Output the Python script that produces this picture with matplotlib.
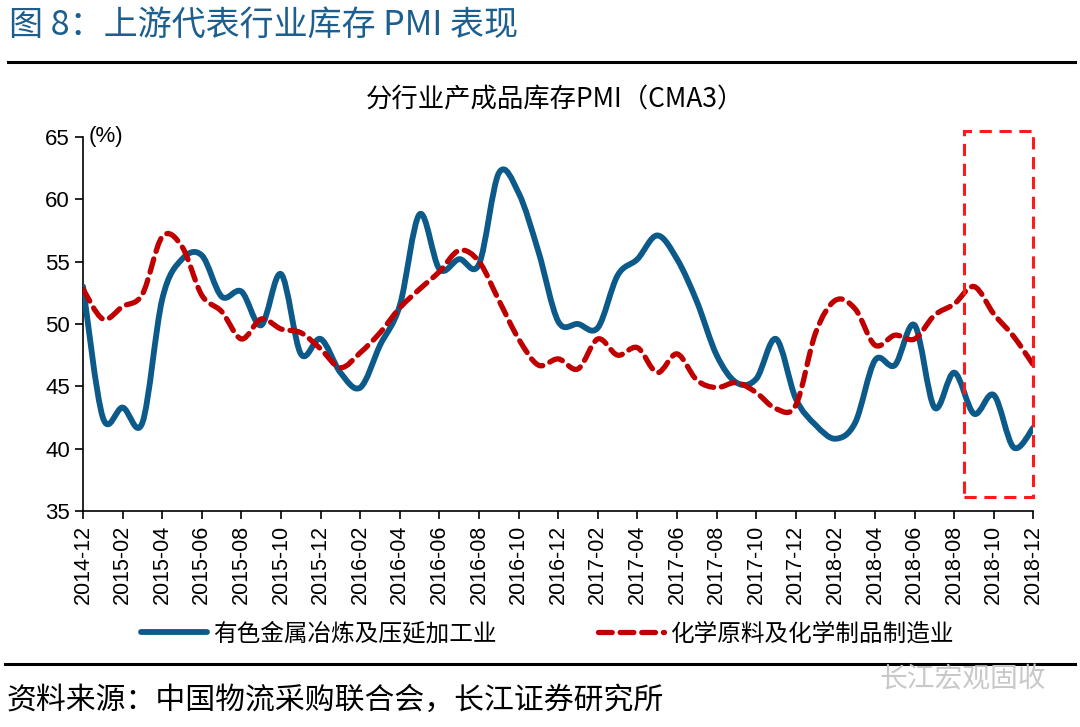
import numpy as np
import matplotlib
matplotlib.use("Agg")
import matplotlib.pyplot as plt
from matplotlib.patches import Rectangle, PathPatch
from matplotlib.path import Path
from matplotlib.lines import Line2D

plt.rcParams['font.family'] = ['Liberation Sans', 'Noto Sans CJK SC', 'DejaVu Sans']
CJK = ['Noto Sans CJK SC', 'DejaVu Sans']

# monthly 2014-12 .. 2018-12
months = [f"{2014 + (11 + i) // 12}-{(11 + i) % 12 + 1:02d}" for i in range(49)]

metals = [53.0, 42.5, 43.3, 42.1, 52.0, 55.2, 55.5, 52.2, 52.6, 49.9,
          54.0, 47.6, 48.8, 46.1, 44.9, 48.3, 51.5, 58.8, 54.4, 55.2,
          54.8, 62.1, 60.5, 55.8, 50.2, 50.0, 49.7, 53.9, 55.2, 57.1,
          55.2, 51.8, 47.5, 45.3, 45.6, 48.8, 44.0, 41.9, 40.8, 42.1,
          47.1, 46.7, 49.9, 43.3, 46.1, 42.8, 44.3, 40.1, 41.7]

chem = [52.8, 50.4, 51.4, 52.4, 57.0, 56.2, 52.3, 51.0, 48.8, 50.4,
        49.6, 49.3, 48.0, 46.5, 47.7, 49.3, 51.3, 52.8, 54.2, 55.9,
        55.0, 51.9, 48.8, 46.7, 47.2, 46.4, 48.8, 47.5, 48.1, 46.1,
        47.6, 45.5, 44.9, 45.3, 44.5, 43.2, 43.5, 49.3, 51.9, 51.2,
        48.3, 49.1, 48.8, 50.7, 51.6, 53.0, 50.8, 49.0, 46.7]

names = ["有色金属冶炼及压延加工业", "化学原料及化学制品制造业"]
blue = "#0b5a8a"
red = "#c00000"


def smooth_path(xs, ys):
    # excel-like smoothed line: bezier segments through every data point
    n = len(xs)
    verts = [(xs[0], ys[0])]
    codes = [Path.MOVETO]
    for i in range(n - 1):
        a = max(i - 1, 0)
        b = min(i + 2, n - 1)
        c1 = (xs[i] + (xs[i + 1] - xs[a]) / 6, ys[i] + (ys[i + 1] - ys[a]) / 6)
        c2 = (xs[i + 1] - (xs[b] - xs[i]) / 6, ys[i + 1] - (ys[b] - ys[i]) / 6)
        verts += [c1, c2, (xs[i + 1], ys[i + 1])]
        codes += [Path.CURVE4] * 3
    return Path(verts, codes)


fig = plt.figure(figsize=(10.8, 7.27), dpi=100)
ax = fig.add_axes([0.0769, 0.297, 0.88, 0.5147])

x = np.arange(len(months))
ax.add_patch(PathPatch(smooth_path(x, metals), fill=False, ec=blue, lw=4.2,
                       capstyle='round', joinstyle='round', zorder=3))
ax.add_patch(PathPatch(smooth_path(x, chem), fill=False, ec=red, lw=3.8,
                       ls=(0, (2.6, 1.5)), capstyle='round', zorder=4))

# highlight box on the last months
ax.add_patch(Rectangle((44.5, 36.1), 3.5, 29.4, fill=False, ec="#ff1a1a",
                       lw=2.2, ls=(0, (4, 2.5)), clip_on=False, zorder=5))

ax.set_xlim(0, 48)
ax.set_ylim(35, 65)
ax.set_yticks(range(35, 66, 5))
ax.set_xticks(x[::2])
ax.set_xticklabels(months[::2], rotation=90, fontsize=15.5)
ax.tick_params(axis='y', labelsize=16, direction='out', length=6, width=1.2)
ax.tick_params(axis='x', direction='out', length=6, width=1.2, pad=4)
for s in ['top', 'right']:
    ax.spines[s].set_visible(False)
for s in ['left', 'bottom']:
    ax.spines[s].set_linewidth(1.2)

ax.text(0.006, 1.0, "(%)", transform=ax.transAxes, fontsize=16,
        va='center', ha='left')

fig.text(0.514, 0.862, "分行业产成品库存PMI（CMA3）", fontsize=19, ha='center',
         va='center', family=CJK)

handles = [Line2D([], [], color=blue, lw=4.2, solid_capstyle='round'),
           Line2D([], [], color=red, lw=3.8, dashes=(2.6, 1.5), dash_capstyle='round')]
fig.legend(handles, names, loc='center', bbox_to_anchor=(0.507, 0.128), ncol=2,
           frameon=False, handlelength=2.8, columnspacing=4.3, handletextpad=0.25,
           prop={'family': CJK, 'size': 17})

# header and footer
fig.text(0.008, 0.965, "图 8：上游代表行业库存 PMI 表现", fontsize=24.5, color="#1c5f8f",
         ha='left', va='center', family=CJK)
fig.add_artist(Line2D([0.007, 0.995], [0.915, 0.915], color='black', lw=2.2))
fig.add_artist(Line2D([0.005, 0.995], [0.087, 0.087], color='black', lw=2.2))
fig.text(0.006, 0.037, "资料来源：中国物流采购联合会，长江证券研究所", fontsize=21.5,
         ha='left', va='center', family=CJK)
fig.text(0.968, 0.065, "长江宏观固收", fontsize=20, color="#c8c8c8",
         ha='right', va='center', family=CJK)

fig.savefig("out.png", dpi=100)
